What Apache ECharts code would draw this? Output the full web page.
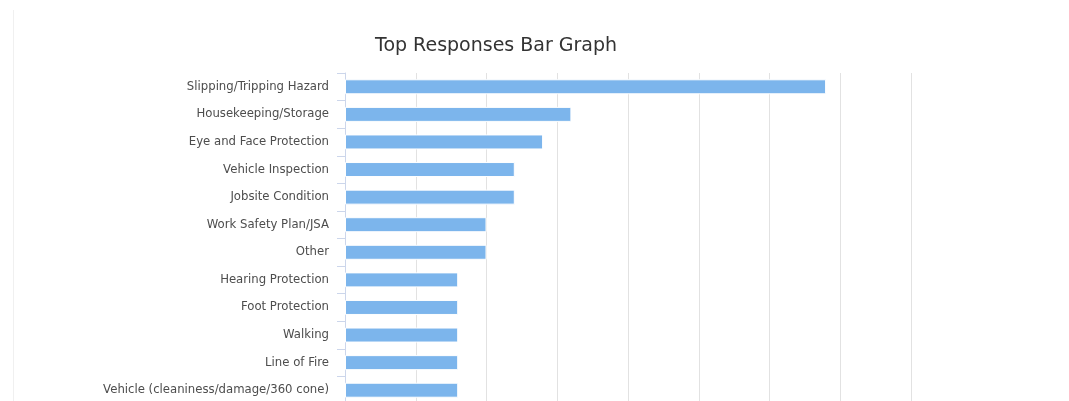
<!DOCTYPE html>
<html>
<head>
<meta charset="utf-8">
<script src="https://cdn.jsdelivr.net/npm/echarts@6/dist/echarts.min.js"></script>
<style>
  html, body { margin: 0; padding: 0; background: #fff; overflow: hidden; }
  #wrap { position: absolute; left: 0; top: 0; width: 1069px; height: 470px; }
  #frame { position: absolute; left: 13px; top: 10px; width: 10px; height: 500px; border-left: 1px solid #f0f0f0; }
  #chart { position: absolute; left: 0; top: 0; width: 1069px; height: 470px; }
</style>
</head>
<body>
<div id="wrap">
  <div id="frame"></div>
  <div id="chart"></div>
</div>
<script>
const titleText = 'Top Responses Bar Graph';
const categories = [
  'Slipping/Tripping Hazard',
  'Housekeeping/Storage',
  'Eye and Face Protection',
  'Vehicle Inspection',
  'Jobsite Condition',
  'Work Safety Plan/JSA',
  'Other',
  'Hearing Protection',
  'Foot Protection',
  'Walking',
  'Line of Fire',
  'Vehicle (cleaniness/damage/360 cone)'
];
const responseCounts = [17, 8, 7, 6, 6, 5, 5, 4, 4, 4, 4, 4];
const valueMin = 0;
const valueMax = 20;
const valueStep = 2.5;

const chart = echarts.init(document.getElementById('chart'), null, { renderer: 'canvas' });
chart.setOption({
  animation: false,
  backgroundColor: 'transparent',
  title: {
    text: titleText,
    left: 370,
    top: 32,
    textStyle: { fontFamily: 'DejaVu Sans', fontSize: 19, fontWeight: 'normal', color: '#333333' }
  },
  grid: { left: 345, top: 73, width: 566, height: 331, containLabel: false },
  xAxis: {
    type: 'value',
    min: valueMin,
    max: valueMax,
    interval: valueStep,
    axisLine: { show: false },
    axisTick: { show: false },
    axisLabel: { show: true, color: '#666666', fontFamily: 'DejaVu Sans', fontSize: 11 },
    splitLine: { show: true, lineStyle: { color: '#e2e2e2', width: 1 } }
  },
  yAxis: {
    type: 'category',
    data: categories,
    inverse: true,
    axisLine: { show: true, lineStyle: { color: '#ccd6eb', width: 1 } },
    axisTick: { show: true, length: 8, lineStyle: { color: '#ccd6eb' } },
    axisLabel: { margin: 16, color: '#4d4d4d', fontFamily: 'DejaVu Sans', fontSize: 11.7 },
    splitLine: { show: false }
  },
  series: [{
    type: 'bar',
    data: responseCounts,
    barWidth: 15,
    itemStyle: { color: '#7cb5ec', borderColor: '#ffffff', borderWidth: 1 }
  }]
});
</script>
</body>
</html>
